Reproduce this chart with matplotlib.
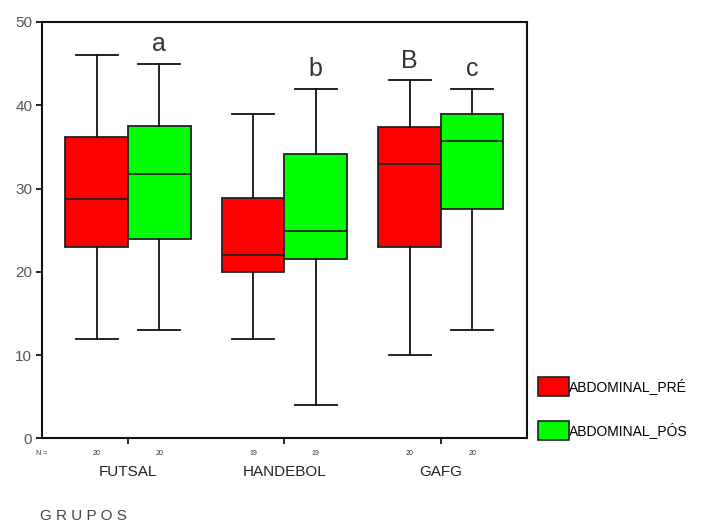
import matplotlib
matplotlib.use("Agg")
import matplotlib.pyplot as plt
from matplotlib.patches import Patch
from matplotlib.transforms import blended_transform_factory

plt.rcParams['font.family'] = ['Liberation Sans', 'DejaVu Sans']

grupos = ['FUTSAL', 'HANDEBOL', 'GAFG']
n_pre = [20, 19, 20]
n_pos = [20, 19, 20]

# box stats: whisker low, Q1, median, Q3, whisker high
pre_lo = [12, 12, 10]
pre_q1 = [23, 20, 23]
pre_med = [28.7, 22, 33]
pre_q3 = [36.2, 28.9, 37.4]
pre_hi = [46, 39, 43]

pos_lo = [13, 4, 13]
pos_q1 = [24, 21.5, 27.6]
pos_med = [31.7, 24.9, 35.7]
pos_q3 = [37.5, 34.1, 39]
pos_hi = [45, 42, 42]

letras_pre = ['', '', 'B']
letras_pos = ['a', 'b', 'c']

cor_pre = '#ff0000'
cor_pos = '#00ff00'


def make_stats(lo, q1, med, q3, hi):
    return [dict(whislo=a, q1=b, med=c, q3=d, whishi=e, fliers=[])
            for a, b, c, d, e in zip(lo, q1, med, q3, hi)]


fig = plt.figure(figsize=(7.10, 5.32), dpi=100)
ax = fig.add_axes([0.0592, 0.1758, 0.683, 0.783])

centros = [1, 2, 3]
x_pre = [c - 0.2 for c in centros]
x_pos = [c + 0.2 for c in centros]

linhas = dict(color='#111111', linewidth=1.3)
for stats, xs, cor in [(make_stats(pre_lo, pre_q1, pre_med, pre_q3, pre_hi), x_pre, cor_pre),
                       (make_stats(pos_lo, pos_q1, pos_med, pos_q3, pos_hi), x_pos, cor_pos)]:
    ax.bxp(stats, positions=xs, widths=0.4, capwidths=0.27, patch_artist=True,
           showfliers=False,
           boxprops=dict(facecolor=cor, edgecolor='#222222', linewidth=1.3),
           medianprops=dict(color='#222222', linewidth=1.3),
           whiskerprops=linhas, capprops=linhas)

ax.set_xlim(0.45, 3.55)
ax.set_ylim(0, 50)
ax.set_yticks([0, 10, 20, 30, 40, 50])
ax.set_xticks(centros)
ax.set_xticklabels([])
ax.tick_params(axis='y', direction='out', length=4, width=1.2, labelsize=11,
               labelcolor='#555555', pad=3)
ax.tick_params(axis='x', direction='out', length=4, width=1.2)
for s in ax.spines.values():
    s.set_linewidth(1.5)
    s.set_color('#111111')

# significance letters above the whiskers
for xs, his, letras in [(x_pre, pre_hi, letras_pre), (x_pos, pos_hi, letras_pos)]:
    for x, h, l in zip(xs, his, letras):
        if l:
            ax.text(x, h + 1.5, l, ha='center', va='baseline', fontsize=18, color='#333333')

# N counts and group names under the axis
trans = blended_transform_factory(ax.transData, ax.transAxes)
ax.text(0.45, -0.035, 'N =', transform=trans, ha='center', va='center', fontsize=5, color='#333333')
for x, n in zip(x_pre + x_pos, n_pre + n_pos):
    ax.text(x, -0.035, str(n), transform=trans, ha='center', va='center', fontsize=5, color='#333333')
for c, g in zip(centros, grupos):
    ax.text(c, -0.08, g, transform=trans, ha='center', va='center', fontsize=11, color='#222222')

fig.text(0.056, 0.017, 'G R U P O S', ha='left', va='bottom', fontsize=11, color='#444444')

handles = [Patch(facecolor=cor_pre, edgecolor='#222222', linewidth=1.2),
           Patch(facecolor=cor_pos, edgecolor='#222222', linewidth=1.2)]
fig.legend(handles, ['ABDOMINAL_PRÉ', 'ABDOMINAL_PÓS'], loc='upper left',
           bbox_to_anchor=(0.758, 0.291), frameon=False, fontsize=10,
           handlelength=2.2, handleheight=1.7, handletextpad=0.0,
           labelspacing=1.8, borderaxespad=0, borderpad=0)

fig.savefig('out.png', dpi=100, facecolor='white')
